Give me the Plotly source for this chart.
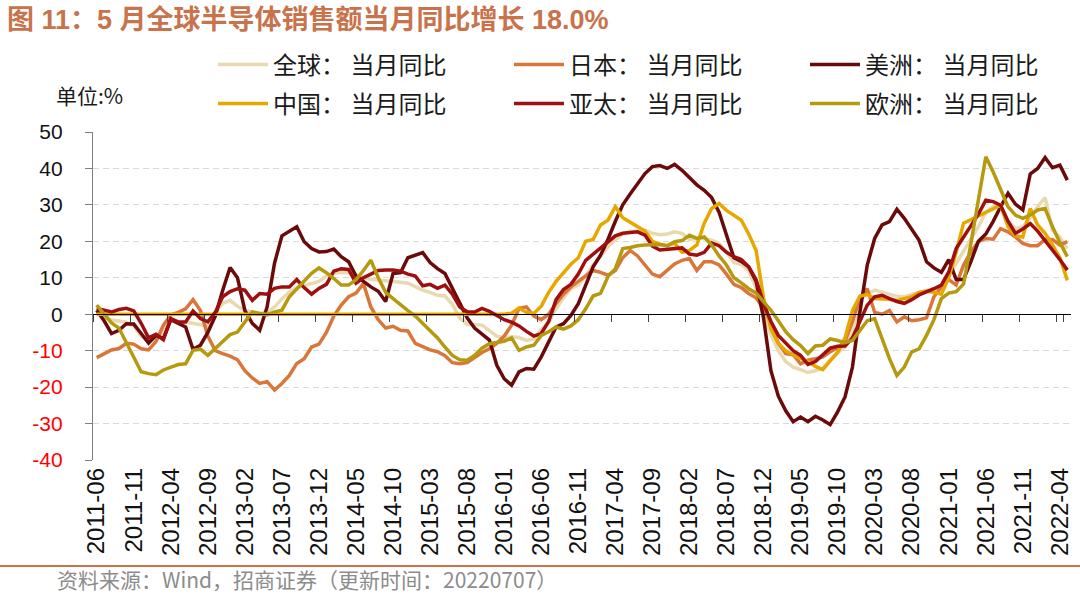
import plotly.graph_objects as go

# ---------------- data ----------------
tick_labels = ["2011-06", "2011-11", "2012-04", "2012-09", "2013-02", "2013-07", "2013-12",
               "2014-05", "2014-10", "2015-03", "2015-08", "2016-01", "2016-06", "2016-11",
               "2017-04", "2017-09", "2018-02", "2018-07", "2018-12", "2019-05", "2019-10",
               "2020-03", "2020-08", "2021-01", "2021-06", "2021-11", "2022-04"]

months = []
yy, mm = 2011, 6
for _ in range(132):
    months.append(f"{yy}-{mm:02d}")
    mm += 1
    if mm > 12:
        mm = 1
        yy += 1

global_yoy = [0.4, -0.8, -1.6, -2.0, -2.2, -3.3, -6.0, -7.5, -6.8, -5.0,
              -1.6, -2.3, -2.2, -2.5, -3.0, -3.3, 0.5, 3.0, 3.8, 2.2,
              1.1, 0.6, 0.2, 0.5, 2.0, 4.2, 6.1, 7.3, 7.8, 8.5,
              9.0, 10.5, 11.3, 11.5, 11.4, 10.8, 10.0, 9.6, 9.4, 9.2,
              9.2, 8.8, 8.5, 7.5, 6.6, 6.0, 5.2, 5.0, 2.7, -1.0,
              -2.8, -2.8, -3.0, -4.5, -6.0, -6.5, -6.2, -6.4, -7.2, -6.8,
              -4.2, -2.4, 1.5, 4.5, 7.0, 8.0, 10.5, 13.5, 15.8, 18.5,
              20.5, 22.0, 22.8, 22.8, 23.0, 22.2, 21.8, 22.0, 22.6, 22.2,
              20.5, 20.8, 20.8, 20.3, 19.4, 17.1, 14.2, 13.6, 12.0, 7.0,
              -0.5, -5.5, -10.0, -13.0, -14.5, -15.2, -16.0, -15.5, -14.8, -12.5,
              -10.5, -9.0, -5.0, 4.0, 5.5, 6.6, 6.0, 5.4, 4.9, 4.8,
              5.3, 6.0, 6.6, 6.7, 7.2, 10.5, 14.0, 17.0, 20.5, 24.0,
              28.0, 29.5, 29.9, 25.5, 23.5, 24.0, 26.5, 29.5, 32.0, 23.0,
              21.1, 18.0]

japan_yoy = [-11.9, -10.8, -9.8, -9.4, -8.0, -8.2, -9.5, -9.8, -7.5, -3.0,
             -0.2, 0.5, 1.5, 4.0, 1.0, -6.0, -10.0, -10.8, -11.5, -12.5,
             -15.5, -17.5, -19.0, -18.5, -20.8, -19.0, -16.8, -13.5, -12.2, -9.0,
             -8.2, -5.0, -0.5, 2.5, 4.8, 5.8, 8.4, 2.0, -1.5, -3.8,
             -3.3, -4.4, -4.6, -8.0, -9.0, -9.8, -10.3, -11.4, -13.3, -13.6,
             -13.3, -11.9, -10.5, -9.5, -8.0, -6.0, -3.0, 1.6, 2.0, -0.5,
             -1.5, 0.0, 3.0, 5.5, 7.5, 9.0, 10.5, 12.0, 11.5, 10.7,
             12.0, 15.5, 17.5, 16.0, 13.5, 11.0, 10.3, 12.0, 13.8, 14.8,
             15.3, 12.0, 14.4, 14.4, 13.5, 11.0, 8.2, 7.3, 5.7, 4.5,
             1.5, -2.5, -8.0, -10.8, -11.1, -13.6, -12.6, -12.2, -11.7, -10.3,
             -9.2, -7.5, -2.0, 4.5, 7.0, 0.5, 0.0, 1.0, -2.1, -0.7,
             -1.8, -1.5, -1.0, 4.8, 7.5, 9.5, 8.0, 13.5, 17.1, 19.9,
             20.8, 20.6, 23.5, 22.6, 21.2, 19.4, 18.8, 18.8, 20.5, 20.5,
             19.0, 19.9]

americas_yoy = [1.1, -1.8, -5.3, -4.4, -2.6, -2.7, -5.3, -7.9, -5.8, -6.7,
                -1.5, -2.6, -3.5, -9.6, -8.5, -5.0, -0.5, 6.5, 12.8, 10.0,
                1.0, -2.5, -4.4, 2.0, 14.0, 21.5, 22.8, 24.0, 19.9, 18.0,
                17.1, 17.2, 17.9, 15.8, 14.4, 10.5, 9.0, 7.5, 6.3, 3.5,
                11.2, 11.4, 15.5, 16.2, 16.9, 14.2, 12.5, 11.2, 7.1, 3.2,
                -1.0, -3.8, -5.5, -7.1, -14.0, -17.7, -19.5, -15.8, -14.9, -15.1,
                -11.7, -7.6, -3.5, -2.6, -0.3, 2.9, 8.0, 13.0, 16.2, 20.5,
                25.5, 30.0, 33.0, 36.0, 38.6, 40.5, 40.8, 40.0, 41.1, 39.5,
                37.5, 35.5, 34.0, 32.0, 28.0, 21.7, 15.5, 14.5, 13.0, 9.0,
                -1.0, -15.5, -22.5, -26.5, -29.5, -28.2, -29.5, -28.0, -29.0, -30.3,
                -26.8, -22.7, -14.5, 0.5, 13.5, 20.8, 24.5, 25.4, 28.8, 26.3,
                23.5, 20.3, 14.4, 12.7, 11.5, 15.0, 9.5, 9.5, 14.5, 20.0,
                22.0, 25.5, 29.5, 33.2, 30.2, 28.6, 38.5, 40.0, 43.0, 40.2,
                40.9, 36.8]

china_yoy = [0.0] * 56 + [
    0.3, 1.7, 0.5, 0.2,
    2.2, 6.0, 9.0, 11.5, 13.7, 15.5, 20.0, 20.5, 24.5, 25.8,
    29.5, 26.5, 25.2, 24.0, 22.8, 20.0, 19.2, 18.8, 19.5, 17.0,
    17.5, 19.0, 25.0, 29.0, 30.4, 28.5, 27.0, 25.8, 22.0, 17.5,
    4.5, -4.0, -8.0, -10.0, -11.2, -12.2, -13.0, -14.3, -15.2, -12.8,
    -10.5, -6.5, 1.0, 5.0, 5.4, 4.3, 4.3, 4.1, 3.8, 4.3,
    4.8, 6.0, 6.3, 6.0, 5.5, 10.0, 17.0, 25.0, 26.0, 27.0,
    28.1, 29.0, 29.9, 24.0, 21.5, 21.2, 29.0, 24.5, 22.2, 19.0,
    15.5, 9.3]

apac_yoy = [1.6, 1.1, 0.6, 1.3, 1.6, 0.9, -2.5, -6.5, -5.5, -7.0,
            -1.2, -2.1, -2.1, 0.9, -1.2, -2.1, 0.5, 4.8, 6.2, 7.0,
            6.6, 3.8, 5.7, 5.5, 7.1, 7.5, 7.5, 9.5, 7.3, 5.5,
            7.1, 8.2, 11.8, 12.5, 12.3, 8.5, 10.0, 11.0, 12.0, 12.1,
            12.1, 11.8, 11.0, 10.5, 7.8, 8.2, 7.1, 8.0, 5.5, 2.0,
            0.7, 0.6, 1.6, 0.8, -0.3, -1.5, -2.2, -3.2, -4.7, -6.0,
            -5.3, -2.0, 4.0, 6.8, 8.2, 11.0, 14.8, 16.5, 18.2, 19.6,
            21.5, 22.2, 22.4, 22.6, 21.7, 18.7, 17.6, 17.8, 18.2, 18.2,
            16.5, 16.2, 17.0, 19.5, 18.8, 17.0, 15.8, 15.0, 13.0, 9.5,
            3.0, -2.0, -5.8, -8.0, -10.0, -11.3, -13.8, -13.0, -11.0, -9.3,
            -8.8, -8.7, -6.5, -2.0, 2.5, 4.8, 5.2, 4.3, 3.5, 3.0,
            4.0, 5.3, 6.1, 7.0, 8.0, 11.6, 18.0, 21.0, 24.3, 27.5,
            31.3, 30.9, 29.9, 25.5, 22.2, 23.4, 24.9, 22.8, 20.3, 17.6,
            15.0, 12.1]

europe_yoy = [2.5, 0.2, -2.4, -3.8, -7.8, -12.0, -15.8, -16.3, -16.6, -15.3,
              -14.5, -13.8, -13.6, -9.9, -9.6, -11.3, -9.4, -7.4, -5.6, -4.9,
              -2.0, 0.6, 0.2, -0.2, 0.6, 1.1, 4.8, 7.0, 9.0, 11.2,
              12.7, 11.4, 9.8, 8.0, 8.0, 9.5, 12.0, 14.8, 10.0, 6.0,
              4.3, 2.5, 1.0, -0.5, -2.5, -4.2, -6.5, -9.0, -11.3, -12.5,
              -12.6, -11.3, -9.3, -8.1, -7.8, -7.4, -6.5, -9.9, -9.0, -8.5,
              -5.8, -4.8, -3.5, -4.1, -3.2, -1.5, 1.5, 5.0, 5.7, 10.3,
              12.5, 18.0, 18.3, 18.8, 19.0, 19.0, 19.1, 18.8, 19.9, 20.2,
              21.7, 20.8, 21.2, 19.0, 16.0, 13.5, 10.0, 8.6, 7.0, 5.8,
              3.4, 1.1, -1.8, -4.8, -7.0, -8.6, -10.8, -8.7, -8.5, -6.8,
              -7.2, -7.8, -7.2, -4.5, -1.8, -1.2, -6.5, -12.2, -16.8, -14.5,
              -10.3, -9.5, -5.8, -1.5, 4.3, 5.8, 6.2, 8.3, 19.5, 31.0,
              43.2, 39.0, 34.0, 29.5, 27.2, 26.3, 27.2, 28.6, 29.0, 24.0,
              19.7, 15.8]

y_ticks = [50, 40, 30, 20, 10, 0, -10, -20, -30, -40]

# ---------------- style ----------------
LATIN = "Liberation Sans, Arial, Noto Sans CJK SC, sans-serif"
CJK = "Noto Sans CJK SC, Liberation Sans, sans-serif"
W, H = 1080, 595
L, R, T, B = 93, 9, 132, 135
PW, PH = W - L - R, H - T - B


def px_x(px):
    return (px - L) / PW


def px_y(py):
    return (H - B - py) / PH


series = [
    ("全球： 当月同比", global_yoy, "#E9D9B0", "legend"),
    ("日本： 当月同比", japan_yoy, "#D9773A", "legend"),
    ("美洲： 当月同比", americas_yoy, "#6B0A0A", "legend"),
    ("中国： 当月同比", china_yoy, "#E6A800", "legend2"),
    ("亚太： 当月同比", apac_yoy, "#A00F10", "legend2"),
    ("欧洲： 当月同比", europe_yoy, "#B59A10", "legend2"),
]

fig = go.Figure()
for name, vals, color, lg in series:
    fig.add_trace(go.Scatter(x=months, y=vals, name=name, mode="lines",
                             line=dict(color=color, width=3.5),
                             legend=lg, hoverinfo="skip"))

tick_text = [f"<span style='color:#FF0000'>{v}</span>" if v < 0 else str(v) for v in y_ticks]

legend_common = dict(orientation="h", xanchor="left", yanchor="middle",
                     x=px_x(213), entrywidth=231, entrywidthmode="pixels",
                     itemwidth=50, bgcolor="rgba(0,0,0,0)", borderwidth=0,
                     font=dict(family=CJK, size=24, color="#1a1a1a"))

fig.update_layout(
    width=W, height=H,
    margin=dict(l=L, r=R, t=T, b=B, autoexpand=False),
    paper_bgcolor="white", plot_bgcolor="white",
    showlegend=True,
    legend=dict(**legend_common, y=px_y(65)),
    legend2=dict(**legend_common, y=px_y(104)),
    xaxis=dict(type="category", categoryorder="array", categoryarray=months,
               range=[-0.5, 131.5], anchor="free", position=40 / 90,
               showline=True, linecolor="#000000", linewidth=1.3,
               ticks="outside", ticklen=7, tickwidth=1.3, tickcolor="#404040",
               tickson="boundaries", tickmode="array", tickvals=tick_labels,
               ticktext=tick_labels, tickangle=-90, ticklabelstandoff=143,
               tickfont=dict(family=LATIN, size=24, color="#111111"),
               showgrid=False, zeroline=False, automargin=False),
    yaxis=dict(range=[-40, 50], tickmode="array", tickvals=y_ticks, ticktext=tick_text,
               showline=True, linecolor="#7f7f7f", linewidth=1.3,
               ticks="outside", ticklen=7, tickcolor="#7f7f7f", tickwidth=1.3,
               ticklabelstandoff=18,
               tickfont=dict(family=LATIN, size=21, color="#111111"),
               showgrid=True, gridcolor="#D9D9D9", gridwidth=1, griddash="6px,4px",
               zeroline=False, automargin=False),
)

# title
fig.add_annotation(xref="paper", yref="paper", x=px_x(5), y=px_y(20),
                   xanchor="left", yanchor="middle", showarrow=False,
                   text="<b>图 11：5 月全球半导体销售额当月同比增长 18.0%</b>",
                   font=dict(family=LATIN, size=27, color="#C8734B"))
# unit label
fig.add_annotation(xref="paper", yref="paper", x=px_x(89), y=px_y(95),
                   xanchor="center", yanchor="middle", showarrow=False,
                   text="单位:%", font=dict(family=CJK, size=21, color="#1a1a1a"))
# source
fig.add_annotation(xref="paper", yref="paper", x=px_x(55), y=px_y(579),
                   xanchor="left", yanchor="middle", showarrow=False,
                   text="资料来源：Wind，招商证券（更新时间：20220707）",
                   font=dict(family=CJK, size=21, color="#8c8c8c"))
# separator line above source
fig.add_shape(type="line", xref="paper", yref="paper",
              x0=px_x(0), x1=px_x(W), y0=px_y(566), y1=px_y(566),
              line=dict(color="#C8734B", width=2))

fig.write_html("out.html", config={"displayModeBar": False},
               post_script="document.body.style.margin='0';")
